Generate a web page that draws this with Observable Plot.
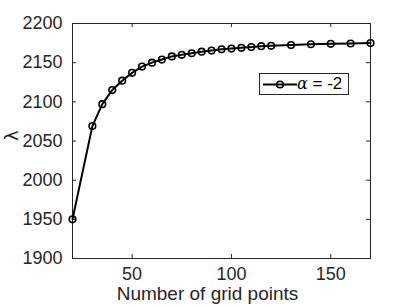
<!DOCTYPE html>
<html><head><meta charset="utf-8">
<script src="https://cdn.jsdelivr.net/npm/d3@7"></script>
<script src="https://cdn.jsdelivr.net/npm/@observablehq/plot@0.6"></script>
<style>
body{margin:0;background:#fff;}
#wrap{position:relative;width:409px;height:307px;font-family:"Liberation Sans",Arial,sans-serif;color:#262626;}
#legend{position:absolute;left:259px;top:73px;width:88px;height:20px;border:1px solid #262626;background:#fff;box-sizing:content-box;}
#legend svg{position:absolute;left:0;top:0;}
#legend span{position:absolute;left:37px;top:1px;font-size:17px;line-height:18px;white-space:nowrap;color:#000;}
#legend i{font-family:"DejaVu Serif","Liberation Serif",serif;font-size:16px;}
</style></head>
<body><div id="wrap"></div>
<script>
const gridPoints = [20,30,35,40,45,50,55,60,65,70,75,80,85,90,95,100,105,110,115,120,130,140,150,160,170];
const lambdaValues = [1950,2069,2097,2115,2127,2137,2145,2150,2154,2158,2160,2162,2164,2165.5,2167,2168,2169,2170,2171,2171.5,2172.5,2173.5,2174,2174.5,2175];
const xTicks = [50,100,150];
const yTicks = [1900,1950,2000,2050,2100,2150,2200];
const seriesName = "= -2";
const xLabel = "Number of grid points";
const yLabel = "λ";

const data = gridPoints.map((x,i)=>({x, y: lambdaValues[i]}));
const W = 409, H = 307, mL = 72, mR = 39, mT = 23, mB = 49;
const fw = W - mL - mR, fh = H - mT - mB;
const ink = "#262626";

const chart = Plot.plot({
  width: W, height: H,
  marginLeft: mL, marginRight: mR, marginTop: mT, marginBottom: mB,
  style: {fontFamily: "'Liberation Sans', Arial, sans-serif", fontSize: "18px", color: ink, background: "#fff", overflow: "visible"},
  x: {domain: [20,170]},
  y: {domain: [1900,2200]},
  marks: [
    Plot.frame({stroke: ink, strokeWidth: 1}),
    Plot.tickX(xTicks, {x: d=>d, insetTop: fh-4, stroke: ink}),
    Plot.tickX(xTicks, {x: d=>d, insetBottom: fh-4, stroke: ink}),
    Plot.tickY(yTicks, {y: d=>d, insetRight: fw-4, stroke: ink}),
    Plot.tickY(yTicks, {y: d=>d, insetLeft: fw-4, stroke: ink}),
    Plot.axisX(xTicks, {tickSize: 0, tickPadding: 9, label: null, fontSize: 18, fill: ink, tickFormat: d3.format("d")}),
    Plot.axisY(yTicks, {tickSize: 0, tickPadding: 10, label: null, fontSize: 18, fill: ink, tickFormat: d3.format("d")}),
    Plot.text([xLabel], {frameAnchor: "bottom", dy: 41, dx: -14, fontSize: 19, fill: ink}),
    Plot.text([yLabel], {frameAnchor: "left", dx: -60, rotate: -90, fontSize: 18, fill: ink, fontFamily: "'DejaVu Sans', sans-serif"}),
    Plot.line(data, {x: "x", y: "y", stroke: "#000", strokeWidth: 2}),
    Plot.dot(data, {x: "x", y: "y", r: 3.3, stroke: "#000", strokeWidth: 1.6, fill: "none"})
  ]
});
const wrap = document.getElementById("wrap");
wrap.appendChild(chart);

const leg = document.createElement("div");
leg.id = "legend";
leg.innerHTML = `<svg width="40" height="20"><line x1="3" y1="10.5" x2="37" y2="10.5" stroke="#000" stroke-width="2"/><circle cx="20" cy="10.5" r="3.3" fill="none" stroke="#000" stroke-width="1.6"/></svg><span><i>α</i> ${seriesName}</span>`;
wrap.appendChild(leg);
</script>
</body></html>
